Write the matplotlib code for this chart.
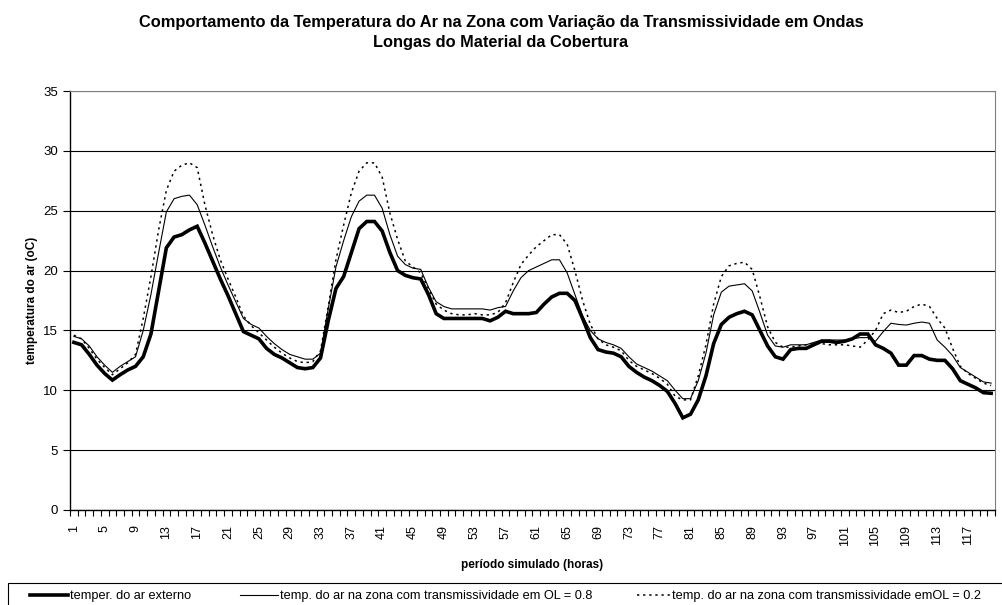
import matplotlib
matplotlib.use('Agg')
import matplotlib.pyplot as plt
import numpy as np

plt.rcParams['font.family'] = ['Liberation Sans', 'DejaVu Sans']

horas = np.arange(1, 121)

ext = [14.0, 13.8, 13.0, 12.1, 11.4, 10.85, 11.3, 11.7, 12.0, 12.8,
       14.7, 18.3, 21.9, 22.8, 23.0, 23.4, 23.7, 22.3, 20.8, 19.3,
       17.9, 16.4, 14.9, 14.6, 14.3, 13.5, 13.0, 12.7, 12.3, 11.9,
       11.8, 11.9, 12.7, 15.8, 18.5, 19.5, 21.5, 23.5, 24.1, 24.1,
       23.3, 21.5, 20.0, 19.6, 19.4, 19.3, 18.0, 16.4, 16.0, 16.0,
       16.0, 16.0, 16.0, 16.0, 15.8, 16.1, 16.6, 16.4, 16.4, 16.4,
       16.5, 17.2, 17.8, 18.1, 18.1, 17.5, 16.0, 14.4, 13.4, 13.2,
       13.1, 12.8, 12.0, 11.5, 11.1, 10.8, 10.4, 9.9, 8.9, 7.7,
       8.0, 9.2, 11.2, 13.9, 15.5, 16.1, 16.4, 16.6, 16.3, 15.0,
       13.7, 12.8, 12.6, 13.4, 13.5, 13.5, 13.8, 14.1, 14.1, 14.0,
       14.1, 14.3, 14.7, 14.7, 13.8, 13.5, 13.1, 12.1, 12.1, 12.9,
       12.9, 12.6, 12.5, 12.5, 11.8, 10.8, 10.5, 10.2, 9.8, 9.75]

ol08 = [14.5, 14.3, 13.7, 12.8, 12.1, 11.5, 12.0, 12.4, 12.8, 15.0,
        18.0, 21.5, 24.9, 26.0, 26.2, 26.3, 25.5, 23.8, 22.0, 20.3,
        18.8, 17.4, 16.0, 15.5, 15.2, 14.5, 13.9, 13.4, 13.0, 12.8,
        12.6, 12.6, 13.1, 16.8, 20.3, 22.5, 24.5, 25.8, 26.3, 26.3,
        25.2, 23.0, 21.2, 20.5, 20.2, 20.1, 18.6, 17.4, 17.0, 16.8,
        16.8, 16.8, 16.8, 16.8, 16.7, 16.9, 17.0, 18.3, 19.4, 20.0,
        20.3, 20.6, 20.9, 20.9, 19.8, 18.0, 16.2, 15.0, 14.3, 14.0,
        13.8, 13.5, 12.8, 12.2, 11.9, 11.6, 11.2, 10.8, 10.0, 9.3,
        9.3, 10.8, 13.1, 16.3, 18.2, 18.7, 18.8, 18.9, 18.3, 16.5,
        14.6, 13.7, 13.6, 13.8, 13.8, 13.8, 14.0, 14.2, 14.2, 14.2,
        14.2, 14.3, 14.4, 14.4, 14.1, 14.9, 15.6, 15.5, 15.45, 15.6,
        15.7, 15.6, 14.2, 13.6, 12.9, 11.9, 11.5, 11.1, 10.7, 10.6]

ol02 = [14.6, 14.3, 13.5, 12.6, 11.9, 11.3, 11.8, 12.3, 13.0, 16.0,
        19.5, 23.4, 26.7, 28.3, 28.8, 29.0, 28.6, 25.5, 23.0, 20.9,
        19.3, 17.8, 16.2, 15.4, 14.8, 14.2, 13.6, 13.1, 12.7, 12.4,
        12.3, 12.4, 13.3, 17.0, 20.9, 23.8, 26.5, 28.3, 29.0, 29.0,
        27.8, 24.8, 22.6, 20.8, 20.3, 19.8, 18.5, 17.2, 16.7, 16.4,
        16.3, 16.3, 16.4, 16.3, 16.3, 16.5, 17.3, 19.0, 20.5, 21.3,
        22.0, 22.5, 23.0, 23.0, 22.2, 20.0, 17.5, 15.5, 14.3, 13.8,
        13.6, 13.3, 12.5, 12.0, 11.7, 11.4, 11.0, 10.5, 9.5, 9.2,
        9.2, 11.2, 13.8, 17.2, 19.5, 20.4, 20.6, 20.7, 20.1, 17.8,
        15.3, 14.0, 13.6, 13.6, 13.7, 13.8, 13.9, 13.9, 13.8, 13.8,
        13.8, 13.7, 13.6, 14.2, 15.0, 16.4, 16.7, 16.5, 16.6, 17.0,
        17.2, 17.0, 16.0, 15.2, 13.5, 12.0, 11.4, 11.0, 10.6, 10.4]

nomes = ['temper. do ar externo',
         'temp. do ar na zona com transmissividade em OL = 0.8',
         'temp. do ar na zona com transmissividade emOL = 0.2']

W, H = 1002, 605
fig = plt.figure(figsize=(W / 100, H / 100), dpi=100)
ax = fig.add_axes([70/W, 1 - 510/H, 925/W, 419/H])

l1, = ax.plot(horas, ext, color='black', lw=2.6, solid_joinstyle='miter')
l2, = ax.plot(horas, ol08, color='black', lw=0.8)
l3, = ax.plot(horas, ol02, color='black', lw=1.1, linestyle=(0, (1.5, 2.5)))

ax.set_xlim(0.5, 120.5)
ax.set_ylim(0, 35)
ax.set_yticks(np.arange(0, 36, 5))
ax.yaxis.grid(True, color='black', lw=0.8)
ax.set_axisbelow(True)

ax.set_xticks(np.arange(1, 121, 4))
ax.set_xticklabels([str(h) for h in range(1, 121, 4)], rotation=90, fontsize=9)
ax.set_xticks(np.arange(0.5, 121, 1), minor=True)
ax.tick_params(axis='x', which='major', length=0, pad=11)
ax.tick_params(axis='x', which='minor', length=4, width=0.8, direction='out')
ax.tick_params(axis='y', length=5, width=0.8, labelsize=9.5)

ax.spines['top'].set_color('#808080')
ax.spines['right'].set_color('#808080')
ax.spines['left'].set_linewidth(1.0)
ax.spines['bottom'].set_linewidth(1.0)

ax.set_xlabel('período simulado (horas)', fontsize=8.5, fontweight='bold', labelpad=9)
ax.set_ylabel('temperatura do ar (oC)', fontsize=8.5, fontweight='bold', labelpad=4)

fig.text(0.5, 1 - 22/H, 'Comportamento da Temperatura do Ar na Zona com Variação da Transmissividade em Ondas',
         ha='center', va='center', fontsize=11.8, fontweight='bold')
fig.text(0.5, 1 - 42/H, 'Longas do Material da Cobertura',
         ha='center', va='center', fontsize=11.8, fontweight='bold')

# caixa da legenda
fig.patches.append(plt.Rectangle((8/W, -0.01), 1.0, (H - 583)/H + 0.01, transform=fig.transFigure,
                                 fill=False, edgecolor='black', lw=0.8))

# legendas individuais (posicoes como no original)
itens = [(l1, nomes[0], 30, 3.0), (l2, nomes[1], 240, 3.0), (l3, nomes[2], 637, 2.6)]
for linha, nome, x0, hl in itens:
    lg = fig.legend([linha], [nome], loc='center left', bbox_to_anchor=(x0/W, 1 - 596/H),
                    fontsize=9.2, frameon=False, handlelength=hl, handletextpad=0.15,
                    borderpad=0, borderaxespad=0)

plt.savefig('out.png', dpi=100)
